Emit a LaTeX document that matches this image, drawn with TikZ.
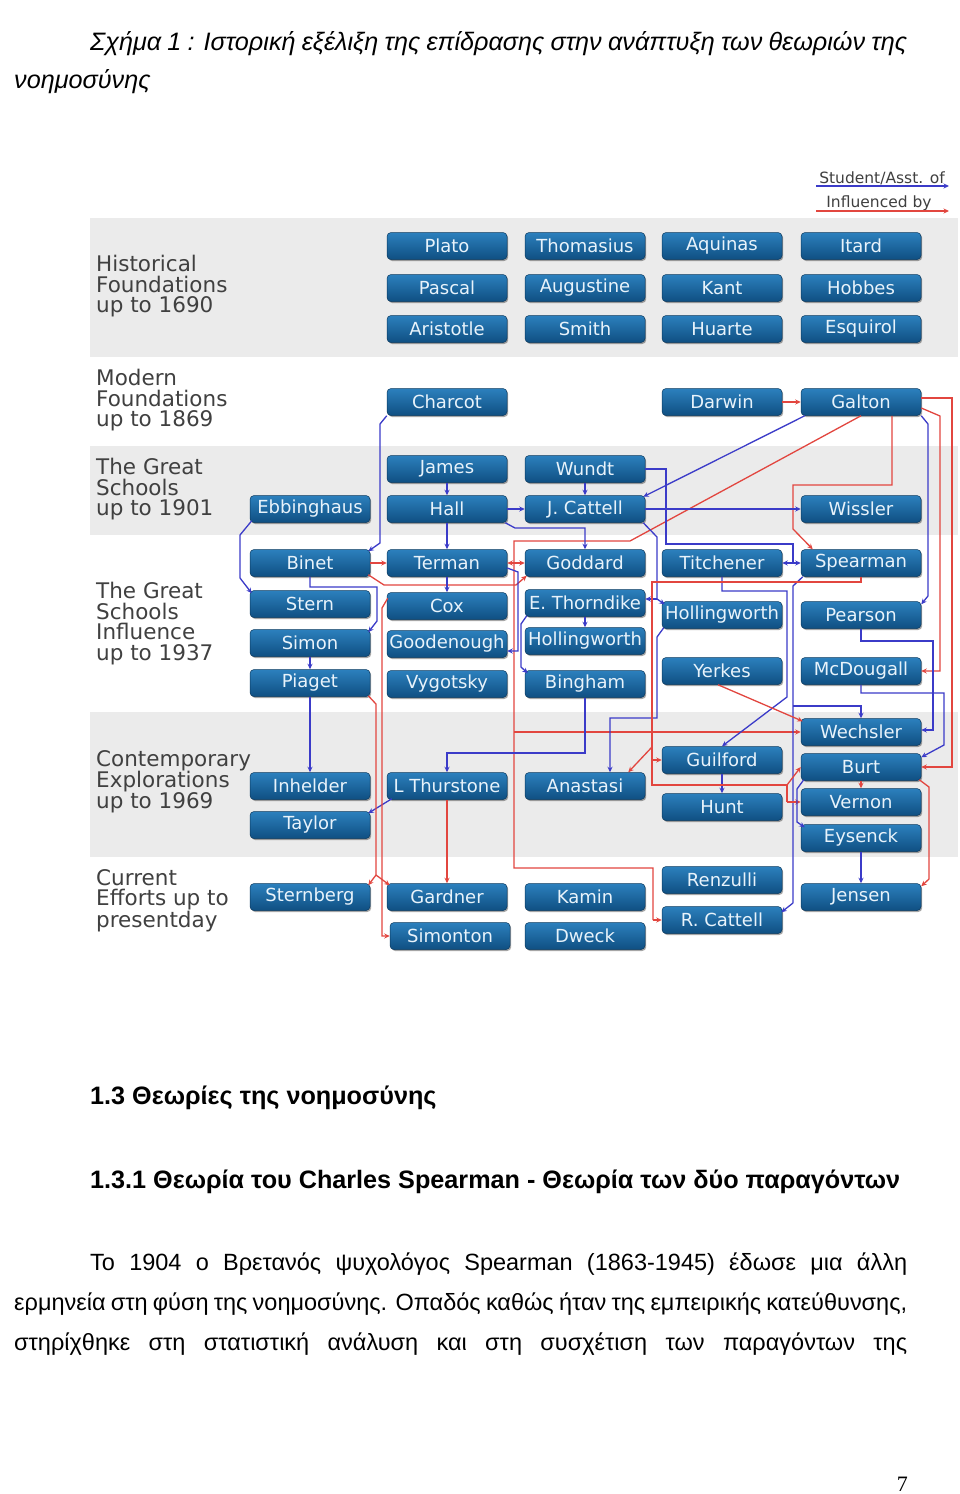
\documentclass[tikz,border=0pt]{standalone}
\usepackage{fontspec}
\setmainfont{Liberation Sans}
\newfontfamily\vfont{DejaVu Sans}
\newfontfamily\pgnumfont{Liberation Serif}
\usetikzlibrary{arrows.meta,calc,shadows}
\definecolor{bandgray}{HTML}{EBEBEB}
\definecolor{btop}{HTML}{2C80BD}
\definecolor{bbot}{HTML}{0F4F82}
\definecolor{bedge}{HTML}{0B3A60}
\definecolor{btext}{HTML}{E8F3FB}
\definecolor{lblue}{HTML}{3B3BC8}
\definecolor{lred}{HTML}{E2463F}
\definecolor{labgray}{HTML}{404040}
\newcommand\mybody{\fontsize{23.5}{28}\selectfont}
\newcommand\myhead{\fontsize{25.2}{29}\selectfont}
\begin{document}
\begin{tikzpicture}[x=1pt,y=-1pt,
  btn/.style={rounded corners=4pt, minimum width=120pt, minimum height=27pt, inner sep=0pt,
    top color=btop, bottom color=bbot, draw=bedge, line width=0.5pt, text=btext,
    font=\vfont\fontsize{18}{18}\selectfont,
    drop shadow={shadow xshift=1.2pt, shadow yshift=-1.5pt, fill=black, opacity=0.35}},
  blul/.style={draw=lblue, line width=1.3pt},
  rddl/.style={draw=lred, line width=1.3pt},
  blu/.style={blul, -{Stealth[length=5.5pt,width=5pt]}},
  rdd/.style={rddl, -{Stealth[length=5.5pt,width=5pt]}},
  lab/.style={anchor=north west, align=left, inner sep=0pt, text=labgray,
    font=\vfont\fontsize{21.5}{20.5}\selectfont},
  lg/.style={inner sep=0pt, text=labgray, font=\vfont\fontsize{15.5}{16}\selectfont},
  txt/.style={inner sep=0pt, anchor=base west, font=\mybody}
]
\useasboundingbox (0,0) rectangle (960,1494);
\fill[white] (0,0) rectangle (960,1494);

% ---------- page text ----------
\node[txt, font=\myhead] (cap1) at (90,50) {\itshape\makebox[817pt][s]{Σχήμα 1 : Ιστορική εξέλιξη της επίδρασης στην ανάπτυξη των θεωριών της}};
\node[txt, font=\myhead] (cap2) at (14,88) {\itshape νοημοσύνης};
\node[txt, font=\myhead] (h1) at (90,1104) {\bfseries 1.3 Θεωρίες της νοημοσύνης};
\node[txt, font=\myhead] (h2) at (90,1188) {\bfseries 1.3.1 Θεωρία του Charles Spearman - Θεωρία των δύο παραγόντων};
\node[txt] (p1) at (90,1270) {\makebox[817pt][s]{Το 1904 ο Βρετανός ψυχολόγος Spearman (1863-1945) έδωσε μια άλλη}};
\node[txt] (p2) at (14,1310) {\makebox[893pt][s]{ερμηνεία στη φύση της νοημοσύνης. Οπαδός καθώς ήταν της εμπειρικής κατεύθυνσης,}};
\node[txt] (p3) at (14,1350) {\makebox[893pt][s]{στηρίχθηκε στη στατιστική ανάλυση και στη συσχέτιση των παραγόντων της}};
\node[inner sep=0pt, anchor=base east, font=\pgnumfont\fontsize{22}{24}\selectfont] (pg) at (908,1491) {7};

% ---------- bands ----------
\fill[bandgray] (90,218) rectangle (958,357);
\fill[bandgray] (90,446) rectangle (958,535);
\fill[bandgray] (90,712) rectangle (958,857);

\node[lab] (l1) at (96,255) {Historical\\Foundations\\up to 1690};
\node[lab] (l2) at (96,369) {Modern\\Foundations\\up to 1869};
\node[lab] (l3) at (96,458) {The Great\\Schools\\up to 1901};
\node[lab] (l4) at (96,582) {The Great\\Schools\\Influence\\up to 1937};
\node[lab] (l5) at (96,750) {Contemporary\\Explorations\\up to 1969};
\node[lab] (l6) at (96,869) {Current\\Efforts up to\\presentday};

% ---------- legend ----------
\node[lg, anchor=base] (lgs) at (882,183) {Student/Asst. of};
\node[lg, anchor=base] (lgi) at (879,207) {Influenced by};
\coordinate (ls1) at (816,186); \coordinate (ls2) at (949,186);
\coordinate (li1) at (816,211); \coordinate (li2) at (949,211);
\draw[blu] (ls1) -- (ls2);
\draw[rdd] (li1) -- (li2);

% ---------- nodes ----------
\node[btn] (plato) at (447,246) {Plato};
\node[btn] (pascal) at (447,288) {Pascal};
\node[btn] (aristotle) at (447,329) {Aristotle};
\node[btn] (thomasius) at (585,246) {Thomasius};
\node[btn] (augustine) at (585,288) {Augustine};
\node[btn] (smith) at (585,329) {Smith};
\node[btn] (aquinas) at (722,246) {Aquinas};
\node[btn] (kant) at (722,288) {Kant};
\node[btn] (huarte) at (722,329) {Huarte};
\node[btn] (itard) at (861,246) {Itard};
\node[btn] (hobbes) at (861,288) {Hobbes};
\node[btn] (esquirol) at (861,329) {Esquirol};

\node[btn] (charcot) at (447,402) {Charcot};
\node[btn] (darwin) at (722,402) {Darwin};
\node[btn] (galton) at (861,402) {Galton};

\node[btn] (james) at (447,469) {James};
\node[btn] (wundt) at (585,469) {Wundt};
\node[btn] (ebbinghaus) at (310,509) {Ebbinghaus};
\node[btn] (hall) at (447,509) {Hall};
\node[btn] (jcattell) at (585,509) {J. Cattell};
\node[btn] (wissler) at (861,509) {Wissler};

\node[btn] (binet) at (310,563) {Binet};
\node[btn] (terman) at (447,563) {Terman};
\node[btn] (goddard) at (585,563) {Goddard};
\node[btn] (titchener) at (722,563) {Titchener};
\node[btn] (spearman) at (861,563) {Spearman};
\node[btn] (stern) at (310,604) {Stern};
\node[btn] (cox) at (447,606) {Cox};
\node[btn] (thorndike) at (585,603) {E. Thorndike};
\node[btn] (hollA) at (722,615) {Hollingworth};
\node[btn] (pearson) at (861,615) {Pearson};
\node[btn] (simon) at (310,643) {Simon};
\node[btn] (goodenough) at (447,644) {Goodenough};
\node[btn] (hollB) at (585,641) {Hollingworth};
\node[btn] (piaget) at (310,683) {Piaget};
\node[btn] (vygotsky) at (447,684) {Vygotsky};
\node[btn] (bingham) at (585,684) {Bingham};
\node[btn] (yerkes) at (722,671) {Yerkes};
\node[btn] (mcdougall) at (861,671) {McDougall};

\node[btn] (wechsler) at (861,732) {Wechsler};
\node[btn] (guilford) at (722,760) {Guilford};
\node[btn] (burt) at (861,767) {Burt};
\node[btn] (inhelder) at (310,786) {Inhelder};
\node[btn] (thurstone) at (447,786) {L Thurstone};
\node[btn] (anastasi) at (585,786) {Anastasi};
\node[btn] (vernon) at (861,802) {Vernon};
\node[btn] (hunt) at (722,807) {Hunt};
\node[btn] (taylor) at (310,825) {Taylor};
\node[btn] (eysenck) at (861,838) {Eysenck};

\node[btn] (renzulli) at (722,880) {Renzulli};
\node[btn] (sternberg) at (310,897) {Sternberg};
\node[btn] (gardner) at (447,897) {Gardner};
\node[btn] (kamin) at (585,897) {Kamin};
\node[btn] (jensen) at (861,897) {Jensen};
\node[btn] (rcattell) at (722,920) {R. Cattell};
\node[btn] (simonton) at (450,936) {Simonton};
\node[btn] (dweck) at (585,936) {Dweck};

% ---------- connectors ----------
\draw[rdd] (darwin.east) -- (galton.west);
\draw[blu] ($(galton.south west)+(4,0)$) -- ($(jcattell.north east)+(-2,1.5)$);
% Galton red tree
\draw[rddl] (galton.south) -- (630,541) -- (514,541) -- (514,868) -- (653,868) -- (653,920);
\draw[rdd] (653,920) -- (rcattell.west);
\draw[rdd] (514,563) -- (goddard.west);
\draw[rdd] (514,563) -- (terman.east);
\draw[rdd] (514,732) -- (wechsler.west);
% Galton -> Spearman
\draw[rdd] ($(galton.south)+(31,0)$) -- (892,485) -- (793,485) -- (793,529) -- ($(spearman.north west)+(12,0)$);
% Galton -> Pearson
\draw[blu] (galton.south east) -- (928,424) -- (928,596) -- ($(pearson.north east)+(0,3)$);
% Galton -> McDougall
\draw[rdd] ($(galton.east)+(0,6)$) -- (940,416) -- (940,671) -- (mcdougall.east);
% Galton -> Burt
\draw[rdd] ($(galton.east)+(0,-4)$) -- (952,398) -- (952,767) -- (burt.east);

% Charcot -> Binet
\draw[blu] (charcot.south west) -- (380,424) -- (380,543) -- ($(binet.north east)+(-2,2)$);
% Ebbinghaus -> Stern
\draw[blu] ($(ebbinghaus.south west)+(2,-2)$) -- (240,535) -- (240,578) -- ($(stern.north west)+(2,3)$);
\draw[blu] (james.south) -- (hall.north);
\draw[blu] (hall.east) -- (jcattell.west);
\draw[blu] (hall.south) -- (terman.north);
\draw[blu] ($(hall.south east)+(-2,0)$) -- (515,528) -- (585,528) -- (goddard.north);
\draw[blu] (wundt.south) -- (jcattell.north);
% Wundt -> Titchener / Spearman
\draw[blul] (wundt.east) -- (666,469) -- (666,544) -- (793,544) -- (793,563);
\draw[blu] (793,563) -- (titchener.east);
\draw[blu] (793,563) -- (spearman.west);
\draw[blu] (jcattell.east) -- (wissler.west);
% J. Cattell -> E. Thorndike / Hollingworth
\draw[blul] ($(jcattell.south east)+(-2,0)$) -- (657,537) -- (657,599);
\draw[blu] (657,599) -- ($(thorndike.east)+(0,-4)$);
\draw[blu] (657,599) -- ($(hollA.north west)+(3,3)$);

\draw[rdd] (binet.east) -- (terman.west);
\draw[rdd] ($(binet.south east)+(-2,-2)$) -- (384,585) -- (516,585) -- ($(goddard.south west)+(2,-1)$);
\draw[blu] (binet.south) -- (310,587) -- (377,587) -- (377,621) -- ($(simon.north east)+(-2,3)$);
\draw[blu] (simon.south) -- (piaget.north);
\draw[blu] (piaget.south) -- (inhelder.north);
\draw[blu] (terman.south) -- (cox.north);
\draw[blu] ($(terman.east)+(0,5)$) -- (518,572) -- (518,651) -- ($(goodenough.east)+(0,7)$);
\draw[blu] (thorndike.south) -- (hollB.north);
\draw[blu] ($(thorndike.south west)+(2,-1)$) -- (521,624) -- (521,667) -- ($(bingham.north west)+(3,3)$);
\draw[blu] (bingham.south) -- (585,753) -- (447,753) -- (thurstone.north);
\draw[blu] ($(hollA.south west)+(2,-1)$) -- (657,637) -- (657,718) -- (610,718) -- ($(anastasi.north)+(25,0)$);
\draw[blu] (titchener.south) -- (722,591) -- (787,591) -- (787,697) -- (guilford.north);
\draw[blu] (guilford.south) -- (hunt.north);
% Spearman blue
\draw[blul] ($(spearman.south west)+(2,0)$) -- (793,586) -- (793,903);
\draw[blu] (793,903) -- ($(rcattell.north east)+(-1,6)$);
\draw[blu] (793,706) -- (861,706) -- (wechsler.north);
% Spearman red tree
\draw[rddl] (spearman.south) -- (861,582) -- (652,582) -- (652,785) -- (787,785) -- (787,802);
\draw[rdd] (787,802) -- (vernon.west);
\draw[rdd] (652,760) -- (guilford.west);
\draw[rdd] (652,747) -- ($(anastasi.north east)+(-17,0)$);
\draw[rdd] (787,785) -- (burt.west);

\draw[blu] (pearson.south) -- (861,641) -- (933,641) -- (933,730) -- ($(wechsler.east)+(0,-2)$);
\draw[blu] (mcdougall.south) -- (861,693) -- (944,693) -- (944,745) -- ($(burt.north east)+(0,4)$);
\draw[rdd] ($(yerkes.south)+(-4,0)$) -- ($(wechsler.north west)+(2,3)$);
\draw[rdd] (burt.south) -- (vernon.north);
\draw[rdd] ($(burt.south east)+(-2,-1)$) -- (929,787) -- (929,879) -- ($(jensen.north east)+(0,3)$);
\draw[blu] ($(burt.south west)+(3,-1)$) -- (797,789) -- (797,822) -- ($(eysenck.north west)+(4,3)$);
\draw[blu] (eysenck.south) -- (jensen.north);
\draw[blu] ($(thurstone.south west)+(5,-1)$) -- ($(taylor.north east)+(-2,2)$);
\draw[rdd] (thurstone.south) -- (gardner.north);
% Piaget -> Sternberg / Gardner
\draw[rddl] ($(piaget.south east)+(-2,-1)$) -- (376,704) -- (376,875);
\draw[rdd] (376,875) -- ($(sternberg.north east)+(-2,2)$);
\draw[rdd] (376,875) -- ($(gardner.north west)+(3,2)$);
% Cox -> Simonton
\draw[rdd] ($(cox.north west)+(1,6)$) -- (382,608) -- (382,936) -- (simonton.west);
\end{tikzpicture}
\end{document}
